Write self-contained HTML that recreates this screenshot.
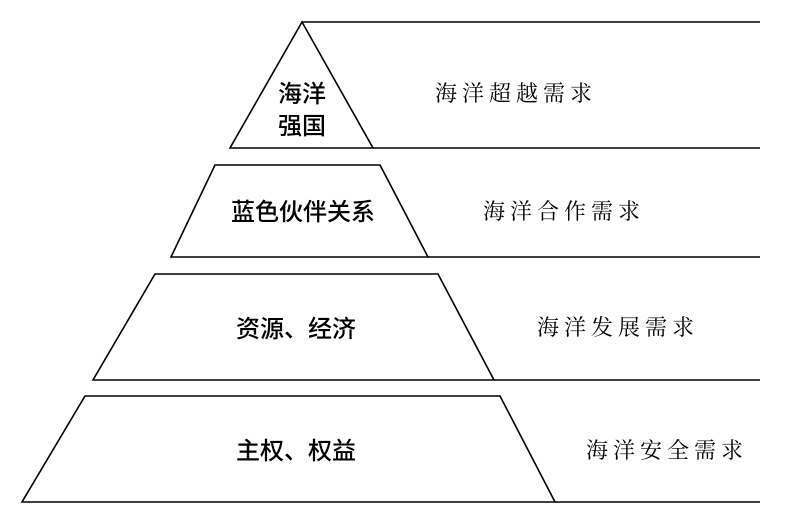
<!DOCTYPE html>
<html><head><meta charset="utf-8"><style>
html,body{margin:0;padding:0;background:#fff;}
svg{display:block;}
.l{font-family:"Liberation Sans","Noto Sans CJK SC",sans-serif;font-size:24px;font-weight:500;fill:#000;}
.r{font-family:"Liberation Serif","Noto Serif CJK SC",serif;font-size:22px;fill:#000;letter-spacing:5px;}
</style></head><body>
<svg width="795" height="520" viewBox="0 0 795 520" xmlns="http://www.w3.org/2000/svg">
<g fill="none" stroke="#000" stroke-width="1.6">
<polygon points="302,22 373,148 230,148"/>
<line x1="302" y1="22" x2="760" y2="22"/>
<line x1="373" y1="148" x2="760" y2="148"/>
<polygon points="215,165 380,165 428,257 171,257"/>
<line x1="428" y1="257" x2="760" y2="257"/>
<polygon points="155,274 438,274 494,380 93,380"/>
<line x1="494" y1="380" x2="760" y2="380"/>
<polygon points="85,396 500,396 555,502 22,502"/>
<line x1="555" y1="502" x2="760" y2="502"/>
</g>
<text class="l" x="302" y="102" text-anchor="middle">海洋</text>
<text class="l" x="302" y="134" text-anchor="middle">强国</text>
<text class="l" x="303" y="220" text-anchor="middle">蓝色伙伴关系</text>
<text class="l" x="296" y="337" text-anchor="middle">资源、经济</text>
<text class="l" x="296" y="459" text-anchor="middle">主权、权益</text>
<text class="r" x="435" y="101">海洋超越需求</text>
<text class="r" x="483" y="219">海洋合作需求</text>
<text class="r" x="537" y="335">海洋发展需求</text>
<text class="r" x="586" y="458">海洋安全需求</text>
</svg>
</body></html>
